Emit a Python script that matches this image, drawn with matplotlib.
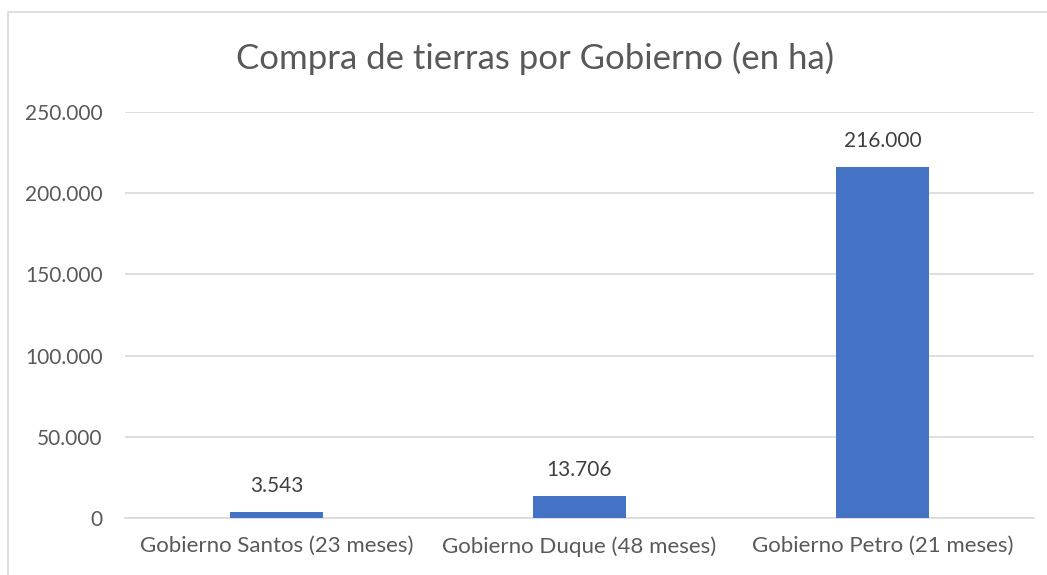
import matplotlib.pyplot as plt
from matplotlib.patches import Rectangle

categorias = ['Gobierno Santos (23 meses)', 'Gobierno Duque (48 meses)', 'Gobierno Petro (21 meses)']
hectareas = [3543, 13706, 216000]
yticks = [0, 50000, 100000, 150000, 200000, 250000]


def fmt(v):
    # separador de miles con punto
    return f"{v:,.0f}".replace(',', '.')


plt.rcParams['font.family'] = ['Lato', 'DejaVu Sans']

fig = plt.figure(figsize=(10.47, 5.75), dpi=100)
ax = fig.add_axes([125 / 1047, 1 - 518 / 575, (1034 - 125) / 1047, (518 - 112) / 575])

# borde del grafico (estilo Excel)
fig.patches.append(Rectangle((8 / 1047, -0.1), 1.2, 1 - 12 / 575 + 0.1,
                             transform=fig.transFigure, fill=False,
                             edgecolor='#d9d9d9', linewidth=1.2))

x = range(len(categorias))
bars = ax.bar(x, hectareas, width=0.31, color='#4472C4', zorder=3)

ax.set_xlim(-0.5, len(categorias) - 0.5)
ax.set_ylim(0, 250000)
ax.set_yticks(yticks)
ax.set_yticklabels([fmt(v) for v in yticks])
ax.set_xticks(list(x))
ax.set_xticklabels(categorias)

ax.tick_params(axis='y', length=0, pad=16, labelsize=15, labelcolor='#595959')
ax.tick_params(axis='x', length=0, pad=13, labelsize=16, labelcolor='#595959')
ax.grid(axis='y', color='#d9d9d9', linewidth=1.2, zorder=0)
for s in ['top', 'right', 'left']:
    ax.spines[s].set_visible(False)
ax.spines['bottom'].set_color('#d9d9d9')
ax.spines['bottom'].set_linewidth(1.2)

for b, v in zip(bars, hectareas):
    ax.text(b.get_x() + b.get_width() / 2, v + 10000, fmt(v),
            ha='center', va='bottom', fontsize=15, color='#404040')

fig.text(535 / 1047, 1 - 58 / 575, 'Compra de tierras por Gobierno (en ha)',
         ha='center', va='center', fontsize=25, color='#595959')

fig.savefig('out.png', dpi=100)
